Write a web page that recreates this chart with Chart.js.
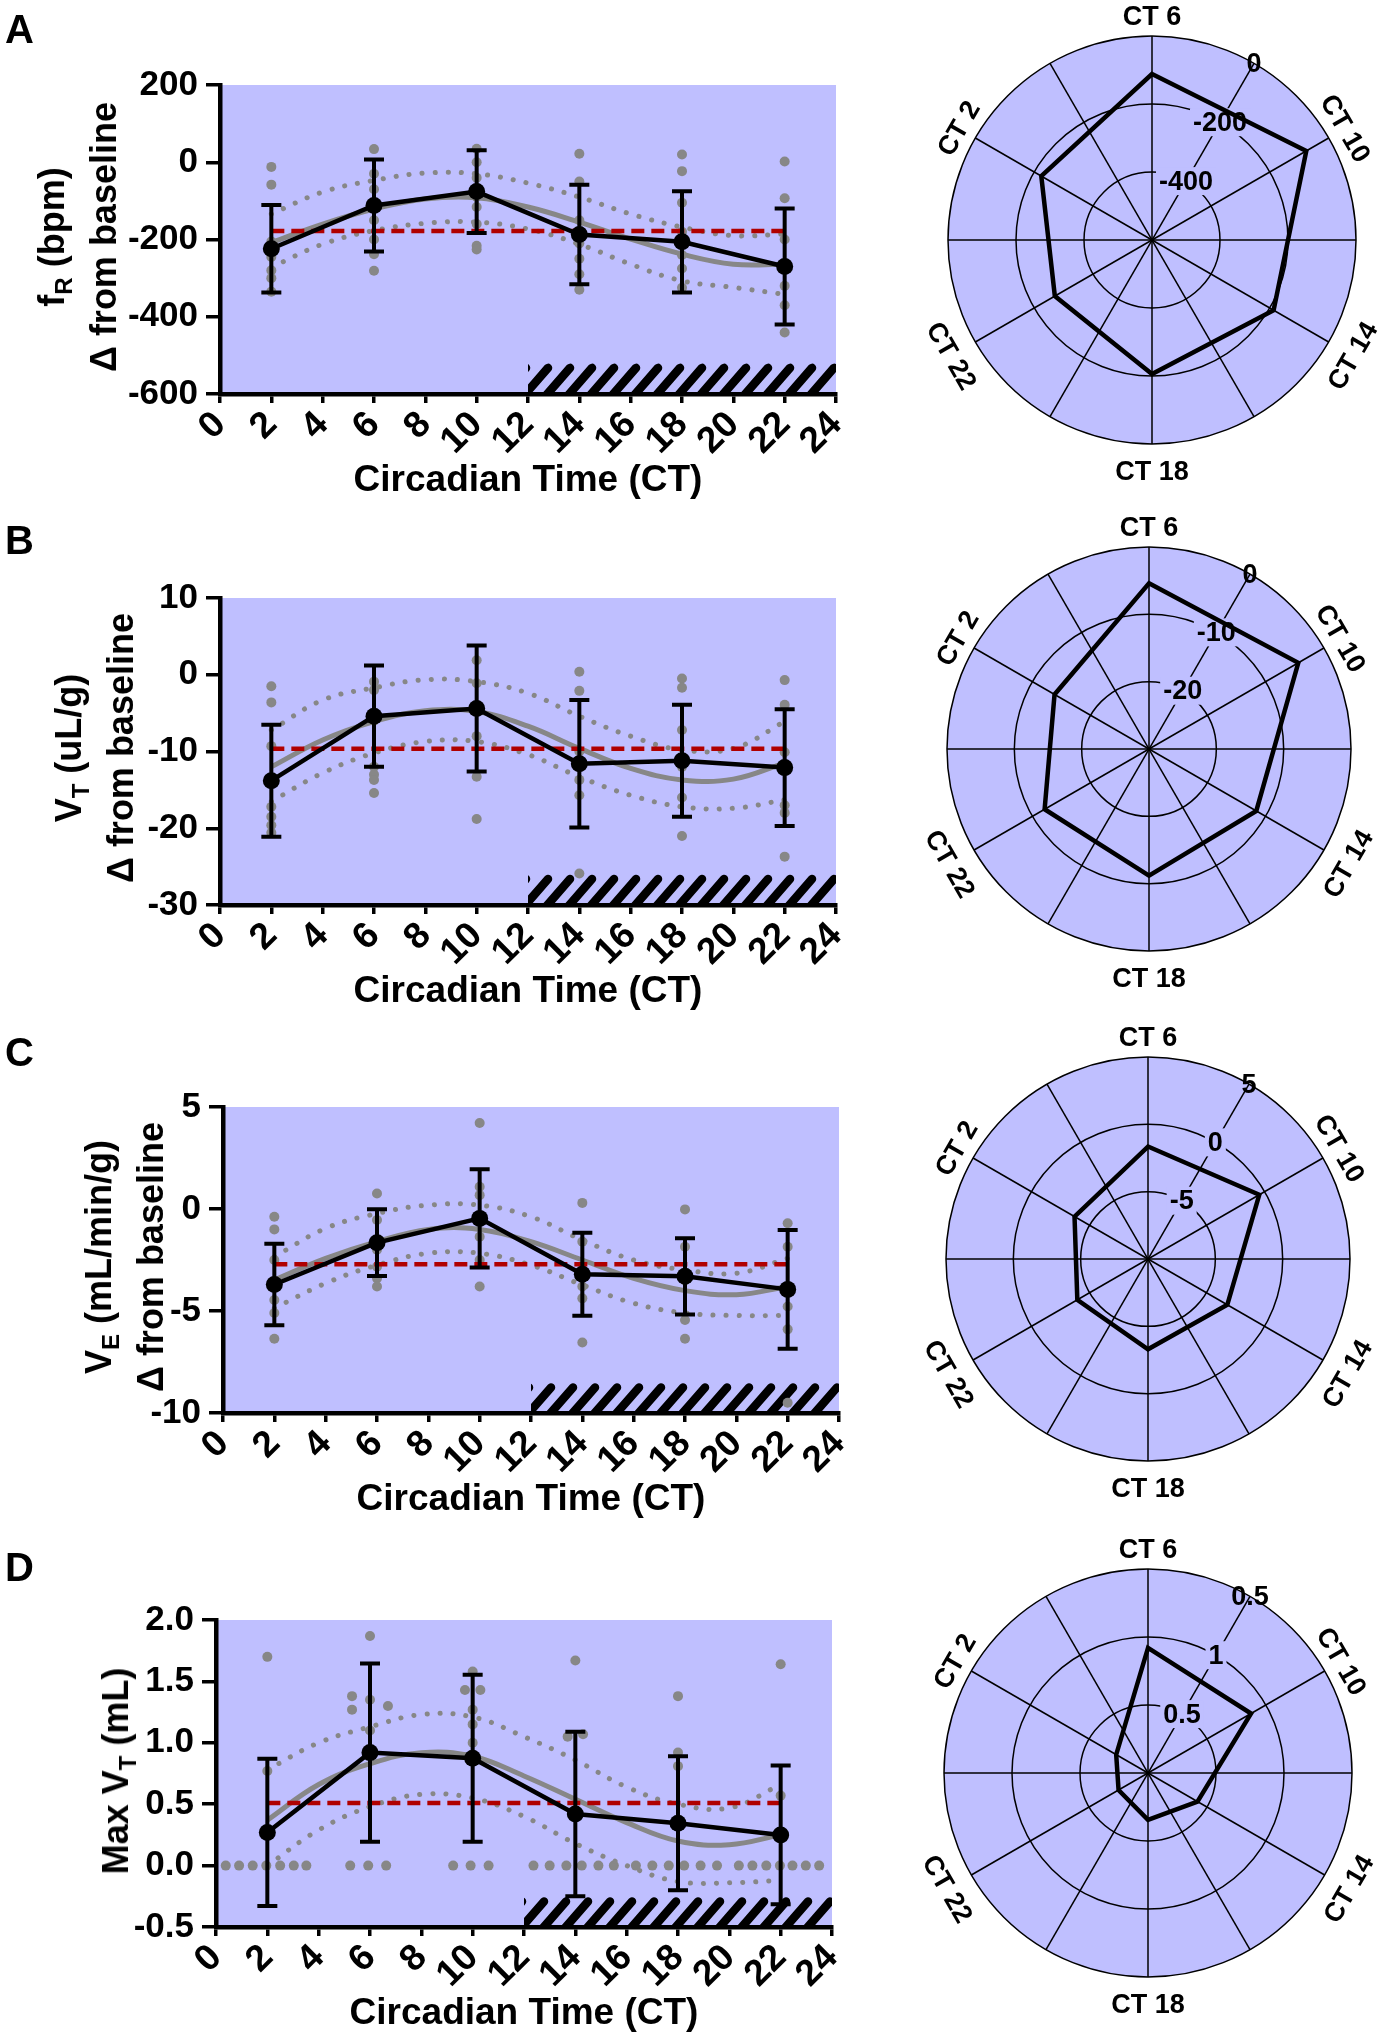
<!DOCTYPE html>
<html><head><meta charset="utf-8">
<script src="https://cdn.jsdelivr.net/npm/chart.js@4.4.1/dist/chart.umd.min.js"></script>
<style>
html,body{margin:0;padding:0;background:#fff;}
#wrap{position:relative;width:1385px;height:2040px;overflow:hidden;font-family:'Liberation Sans',Arial,Helvetica,sans-serif;font-weight:bold;color:#000;}
canvas{position:absolute;}
.letter{position:absolute;left:5px;font-size:40px;line-height:1;}
.ytitle{position:absolute;font-size:36px;line-height:48px;white-space:nowrap;text-align:center;transform:translate(-50%,-50%) rotate(-90deg);}
.ytitle .s{font-size:24px;position:relative;top:8px;}
</style></head><body><div id="wrap">
<canvas id="lA" width="900" height="503" style="left:0;top:0"></canvas>
<canvas id="lB" width="900" height="504" style="left:0;top:510px"></canvas>
<canvas id="lC" width="900" height="502" style="left:0;top:1020px"></canvas>
<canvas id="lD" width="900" height="501" style="left:0;top:1535px"></canvas>
<canvas id="rA" width="500" height="500" style="left:902px;top:-10px"></canvas>
<canvas id="rB" width="500" height="500" style="left:899px;top:499px"></canvas>
<canvas id="rC" width="500" height="500" style="left:898px;top:1009px"></canvas>
<canvas id="rD" width="500" height="500" style="left:898px;top:1523px"></canvas>
<div class="letter" style="top:9px">A</div>
<div class="letter" style="top:520px">B</div>
<div class="letter" style="top:1032px">C</div>
<div class="letter" style="top:1547px">D</div>
<div class="ytitle" style="left:78px;top:237px">f<span class="s">R</span> (bpm)<br>Δ from baseline</div>
<div class="ytitle" style="left:95px;top:748px">V<span class="s">T</span> (uL/g)<br>Δ from baseline</div>
<div class="ytitle" style="left:125px;top:1257px">V<span class="s">E</span> (mL/min/g)<br>Δ from baseline</div>
<div class="ytitle" style="left:118px;top:1771px">Max V<span class="s">T</span> (mL)</div>
</div>
<script>
// ---------- shared categories ----------
const ctHours = [2, 6, 10, 14, 18, 22];
const fitHours = [2, 4, 6, 8, 10, 12, 14, 16, 18, 20, 22];
const darkPhase = [12, 24];
const radarLabels = ['CT 6', 'CT 10', 'CT 14', 'CT 18', 'CT 22', 'CT 2'];
const radarOrder = [1, 2, 3, 4, 5, 0]; // index into ctHours for each radar label

// ---------- Panel A : fR ----------
const meanA = [-224, -112, -76, -187, -206, -270];
const sdA = [113, 119, 107, 129, 131, 150];
const mesorA = -178;
const fitA = [-208, -160, -121, -95, -92, -116, -155, -199, -238, -264, -264];
const upperA = [-134, -77, -47, -28, -30, -54, -90, -134, -168, -190, -186];
const lowerA = [-272, -212, -177, -158, -155, -173, -212, -264, -307, -324, -342];
const dotsA = [
  [-12, -58, -205, -245, -280, -300, -335],
  [34, -30, -70, -110, -150, -200, -238, -281],
  [35, 0, -40, -90, -116, -160, -216, -226],
  [22, -50, -150, -210, -250, -290, -330],
  [20, -23, -105, -180, -240, -275, -325],
  [2, -93, -200, -265, -320, -370, -441]
];
const yRangeA = [-600, 200, 200];
const hatchTopA = -522;
const rRangeA = [-600, 0, 200];
const rTicksA = [-400, -200, 0];
const rTickTextA = ['-400', '-200', '0'];

// ---------- Panel B : VT ----------
const meanB = [-13.8, -5.4, -4.4, -11.6, -11.2, -12.1];
const sdB = [7.3, 6.6, 8.2, 8.3, 7.3, 7.6];
const mesorB = -9.65;
const fitB = [-12, -8.5, -6.1, -4.7, -4.8, -6.7, -9.6, -12.2, -13.7, -13.6, -11.5];
const upperB = [-7.2, -3.3, -1.7, -0.65, -0.9, -2.4, -5.4, -8.0, -9.8, -9.6, -6.1];
const lowerB = [-16.5, -12.8, -10.2, -8.7, -8.7, -10.4, -13.3, -15.7, -17.2, -17.4, -16.3];
const dotsB = [
  [-1.5, -3.6, -9.3, -17.2, -18.5, -19.6, -20.6],
  [-0.9, -2, -6, -12, -13, -13.7, -15.4],
  [1.9, -1.1, -4, -8, -13.3, -18.8],
  [0.4, -2.1, -10, -13.7, -15.7, -25.9],
  [-0.5, -1.7, -7.2, -12, -16, -21],
  [-0.7, -3.9, -10.1, -17, -18, -23.7]
];
const yRangeB = [-30, 10, 10];
const hatchTopB = -26.1;
const rRangeB = [-30, 0, 10];
const rTicksB = [-20, -10, 0];
const rTickTextB = ['-20', '-10', '0'];

// ---------- Panel C : VE ----------
const meanC = [-3.7, -1.65, -0.46, -3.2, -3.3, -3.94];
const sdC = [2.0, 1.64, 2.41, 2.03, 1.87, 2.91];
const mesorC = -2.71;
const fitC = [-3.48, -2.42, -1.6, -1.0, -1.0, -1.6, -2.5, -3.4, -4.0, -4.2, -3.8];
const upperC = [-2.34, -0.95, -0.22, 0.19, 0.19, -0.38, -1.52, -2.5, -2.99, -3.15, -2.42];
const lowerC = [-4.86, -3.64, -2.75, -2.17, -2.17, -2.75, -3.72, -4.62, -5.1, -5.22, -5.22];
const dotsC = [
  [-0.38, -1.0, -2.5, -4.46, -5.1, -6.36],
  [0.76, -0.54, -2.0, -2.83, -3.4, -3.8],
  [4.22, 1.09, 0.68, -1.36, -2.5, -3.8],
  [0.3, -1.6, -3.8, -4.38, -6.54],
  [-0.02, -1.85, -3.5, -5.44, -6.36],
  [-0.7, -1.85, -4.78, -5.9, -9.5]
];
const yRangeC = [-10, 5, 5];
const hatchTopC = -8.55;
const rRangeC = [-10, 5, 5];
const rTicksC = [-5, 0, 5];
const rTickTextC = ['-5', '0', '5'];

// ---------- Panel D : Max VT ----------
const meanD = [0.27, 0.92, 0.875, 0.42, 0.345, 0.25];
const sdD = [0.6, 0.725, 0.68, 0.67, 0.545, 0.565];
const mesorD = 0.51;
const fitD = [0.37, 0.66, 0.83, 0.92, 0.89, 0.73, 0.54, 0.35, 0.2, 0.17, 0.25];
const upperD = [0.78, 1.0, 1.13, 1.23, 1.21, 1.05, 0.86, 0.64, 0.5, 0.47, 0.66];
const lowerD = [0.0, 0.29, 0.48, 0.58, 0.55, 0.4, 0.18, 0.0, -0.13, -0.14, -0.12];
const dotsDx = [0.38, 0.9, 1.43, 1.96, 2.5, 3.03, 3.52, 5.23, 5.93, 6.63, 9.24, 9.92, 10.62,
  12.37, 13.0, 13.65, 14.25, 14.9, 15.5, 16.36, 17.0, 17.64, 18.24, 18.88, 19.52, 20.37,
  20.9, 21.44, 21.97, 22.46, 22.98, 23.5,
  2, 2, 6, 5.3, 5.3, 6, 6.7, 6, 10, 9.7, 10.3, 10, 10, 10, 14, 13.7, 14.3, 18, 18, 18, 22, 22];
const dotsDy = [0, 0, 0, 0, 0, 0, 0, 0, 0, 0, 0, 0, 0,
  0, 0, 0, 0, 0, 0, 0, 0, 0, 0, 0, 0, 0,
  0, 0, 0, 0, 0, 0,
  1.70, 0.77, 1.87, 1.38, 1.27, 1.35, 1.3, 1.1, 1.58, 1.43, 1.43, 1.27, 1.15, 1.0, 1.67, 1.05, 1.07, 1.38, 0.92, 0.81, 1.64, 0.57];
const yRangeD = [-0.5, 2.0, 0.5];
const hatchTopD = -0.26;
const rRangeD = [0, 1.5, 0.5];
const rTicksD = [0.5, 1, 1.5];
const rTickTextD = ['0.5', '1', '0.5'];

// ---------- styling ----------
const FONT = "'Liberation Sans', Arial, Helvetica, sans-serif";
Chart.defaults.font.family = FONT;
Chart.defaults.font.weight = 'bold';
Chart.defaults.color = '#000';
const LAV = 'rgb(191,191,255)';
const GRAY = '#878787';
const RED = '#B00000';

function xy(xs, ys) { return xs.map((x, i) => ({x: x, y: ys[i]})); }

function makeLeft(id, p) {
  const dots = p.dotsX
    ? p.dotsX.map((x, i) => ({x: x, y: p.dotsY[i]}))
    : p.dots.flatMap((arr, i) => arr.map(v => ({x: ctHours[i], y: v})));
  const extras = {
    id: 'extras' + id,
    beforeDraw(chart) {
      const {ctx, chartArea: a} = chart;
      ctx.save();
      ctx.fillStyle = LAV;
      ctx.fillRect(a.left, a.top, a.right - a.left, a.bottom - a.top);
      ctx.restore();
    },
    beforeDatasetsDraw(chart) {
      const {ctx, chartArea: a} = chart;
      const xs = chart.scales.x, ys = chart.scales.y;
      const x0 = xs.getPixelForValue(darkPhase[0]);
      const x1 = xs.getPixelForValue(darkPhase[1]);
      const yT = ys.getPixelForValue(p.hatchTop);
      const yB = a.bottom - 2;
      ctx.save();
      ctx.beginPath();
      ctx.rect(x0, yT - 6, x1 - x0, yB - yT + 6);
      ctx.clip();
      ctx.strokeStyle = '#000';
      ctx.lineWidth = 8.5;
      ctx.lineCap = 'round';
      const period = 22;
      const dx = (yB - yT) * 0.78;
      ctx.beginPath();
      for (let x = x1 - 2; x > x0 - dx - period; x -= period) {
        ctx.moveTo(x - dx - 6, yB + 8);
        ctx.lineTo(x, yT + 4);
      }
      ctx.stroke();
      ctx.restore();
    },
    beforeDatasetDraw(chart, args) {
      if (chart.data.datasets[args.index].label !== 'mean') return;
      const ctx = chart.ctx;
      const xs = chart.scales.x, ys = chart.scales.y;
      ctx.save();
      ctx.strokeStyle = '#000';
      ctx.lineWidth = 4;
      ctx.lineCap = 'butt';
      ctHours.forEach((h, i) => {
        const x = xs.getPixelForValue(h);
        const yt = ys.getPixelForValue(p.mean[i] + p.sd[i]);
        const yb = ys.getPixelForValue(p.mean[i] - p.sd[i]);
        ctx.beginPath();
        ctx.moveTo(x, yt); ctx.lineTo(x, yb);
        ctx.moveTo(x - 10, yt); ctx.lineTo(x + 10, yt);
        ctx.moveTo(x - 10, yb); ctx.lineTo(x + 10, yb);
        ctx.stroke();
      });
      ctx.restore();
    }
  };
  const yTicks = {stepSize: p.yRange[2], autoSkip: false, font: {size: 35, weight: 'bold'}, color: '#000', padding: 8};
  if (p.fmt) yTicks.callback = p.fmt;
  new Chart(document.getElementById(id), {
    type: 'line',
    data: {
      datasets: [
        {type: 'line', label: 'mean', data: xy(ctHours, p.mean), borderColor: '#000', borderWidth: 4.5,
         pointRadius: 8.5, pointBackgroundColor: '#000', pointBorderWidth: 0, tension: 0, order: 1},
        {type: 'line', label: 'mesor', data: [{x: ctHours[0], y: p.mesor}, {x: ctHours[ctHours.length - 1], y: p.mesor}],
         borderColor: RED, borderWidth: 4.5, borderDash: [13, 7], pointRadius: 0, order: 2},
        {type: 'line', label: 'fit', data: xy(fitHours, p.fit), borderColor: GRAY, borderWidth: 5,
         pointRadius: 0, tension: 0.4, order: 3},
        {type: 'line', label: 'upper', data: xy(fitHours, p.upper), borderColor: GRAY, borderWidth: 5,
         borderDash: [0.1, 13], borderCapStyle: 'round', pointRadius: 0, tension: 0.4, order: 4},
        {type: 'line', label: 'lower', data: xy(fitHours, p.lower), borderColor: GRAY, borderWidth: 5,
         borderDash: [0.1, 13], borderCapStyle: 'round', pointRadius: 0, tension: 0.4, order: 4},
        {type: 'scatter', label: 'dots', data: dots, pointRadius: 5, pointBackgroundColor: GRAY,
         backgroundColor: GRAY, pointBorderWidth: 0, borderWidth: 0, order: 5}
      ]
    },
    options: {
      responsive: false, animation: false, events: [],
      layout: {padding: {top: p.padTop, right: 900 - p.right, left: 0, bottom: 0}},
      plugins: {legend: {display: false}, tooltip: {enabled: false}},
      scales: {
        x: {
          type: 'linear', min: 0, max: 24,
          afterFit: s => { s.height = 109; },
          ticks: {stepSize: 2, autoSkip: false, minRotation: 45, maxRotation: 45,
                  font: {size: 37, weight: 'bold'}, color: '#000', padding: 0},
          grid: {drawOnChartArea: false, drawTicks: true, tickLength: 9, color: '#000', lineWidth: 3.5},
          border: {display: true, color: '#000', width: 4.5},
          title: {display: true, text: 'Circadian Time (CT)', font: {size: 37, weight: 'bold'}, color: '#000', padding: 0}
        },
        y: {
          type: 'linear', min: p.yRange[0], max: p.yRange[1],
          afterFit: s => { s.width = p.left; },
          ticks: yTicks,
          grid: {drawOnChartArea: false, drawTicks: true, tickLength: 14, color: '#000', lineWidth: 3.5},
          border: {display: true, color: '#000', width: 4.5}
        }
      }
    },
    plugins: [extras]
  });
}

function makeRadar(id, p) {
  const labels12 = [], data12 = [];
  radarOrder.forEach((idx, k) => {
    labels12.push(radarLabels[k]); labels12.push('');
    data12.push(p.mean[idx]); data12.push(null);
  });
  const extras = {
    id: 'rextras' + id,
    beforeDraw(chart) {
      const s = chart.scales.r, ctx = chart.ctx;
      ctx.save();
      ctx.beginPath();
      ctx.arc(s.xCenter, s.yCenter, s.drawingArea, 0, Math.PI * 2);
      ctx.fillStyle = LAV;
      ctx.fill();
      ctx.restore();
    },
    beforeDatasetsDraw(chart) {
      const s = chart.scales.r, ctx = chart.ctx;
      ctx.save();
      ctx.textAlign = 'center';
      ctx.textBaseline = 'middle';
      // value labels along the 30-degree spoke
      ctx.font = 'bold 27px ' + FONT;
      p.rTicks.forEach((v, i) => {
        const pt = s.getPointPosition(1, s.getDistanceFromCenterForValue(v));
        const txt = p.rTickText[i];
        const w = ctx.measureText(txt).width;
        if (i < p.rTicks.length - 1) {
          ctx.fillStyle = LAV;
          ctx.fillRect(pt.x - w / 2 - 3, pt.y - 14, w + 6, 28);
        }
        ctx.fillStyle = '#000';
        ctx.fillText(txt, pt.x, pt.y + 1);
      });
      // rotated point labels
      ctx.font = 'bold 27px ' + FONT;
      radarLabels.forEach((txt, k) => {
        const deg = k * 60;
        const lower = deg > 90 && deg < 270;
        const pt = s.getPointPosition(2 * k, s.drawingArea + (lower ? 29 : 18));
        const rot = lower ? deg - 180 : deg;
        ctx.save();
        ctx.translate(pt.x, pt.y);
        ctx.rotate(rot * Math.PI / 180);
        ctx.fillStyle = '#000';
        ctx.fillText(txt, 0, 0);
        ctx.restore();
      });
      ctx.restore();
    }
  };
  new Chart(document.getElementById(id), {
    type: 'radar',
    data: {labels: labels12, datasets: [{data: data12, borderColor: '#000', borderWidth: 4.5, pointRadius: 0,
      fill: false, spanGaps: true, borderJoinStyle: 'miter', tension: 0}]},
    options: {
      responsive: false, animation: false, events: [],
      layout: {padding: 250 - p.R},
      plugins: {legend: {display: false}, tooltip: {enabled: false}},
      scales: {r: {
        min: p.rRange[0], max: p.rRange[1],
        ticks: {display: false, stepSize: p.rRange[2]},
        grid: {circular: true, color: '#000', lineWidth: 1.5},
        angleLines: {display: true, color: '#000', lineWidth: 1.5},
        pointLabels: {display: false}
      }}
    },
    plugins: [extras]
  });
}

makeLeft('lA', {mean: meanA, sd: sdA, mesor: mesorA, fit: fitA, upper: upperA, lower: lowerA, dots: dotsA,
  yRange: yRangeA, hatchTop: hatchTopA, left: 220, right: 836, padTop: 85});
makeLeft('lB', {mean: meanB, sd: sdB, mesor: mesorB, fit: fitB, upper: upperB, lower: lowerB, dots: dotsB,
  yRange: yRangeB, hatchTop: hatchTopB, left: 220, right: 836, padTop: 88});
makeLeft('lC', {mean: meanC, sd: sdC, mesor: mesorC, fit: fitC, upper: upperC, lower: lowerC, dots: dotsC,
  yRange: yRangeC, hatchTop: hatchTopC, left: 223, right: 839, padTop: 87});
makeLeft('lD', {mean: meanD, sd: sdD, mesor: mesorD, fit: fitD, upper: upperD, lower: lowerD,
  dotsX: dotsDx, dotsY: dotsDy, fmt: v => v.toFixed(1),
  yRange: yRangeD, hatchTop: hatchTopD, left: 216, right: 832, padTop: 85});

makeRadar('rA', {mean: meanA, rRange: rRangeA, rTicks: rTicksA, rTickText: rTickTextA, R: 204});
makeRadar('rB', {mean: meanB, rRange: rRangeB, rTicks: rTicksB, rTickText: rTickTextB, R: 202});
makeRadar('rC', {mean: meanC, rRange: rRangeC, rTicks: rTicksC, rTickText: rTickTextC, R: 202});
makeRadar('rD', {mean: meanD, rRange: rRangeD, rTicks: rTicksD, rTickText: rTickTextD, R: 204});
</script>
</body></html>
